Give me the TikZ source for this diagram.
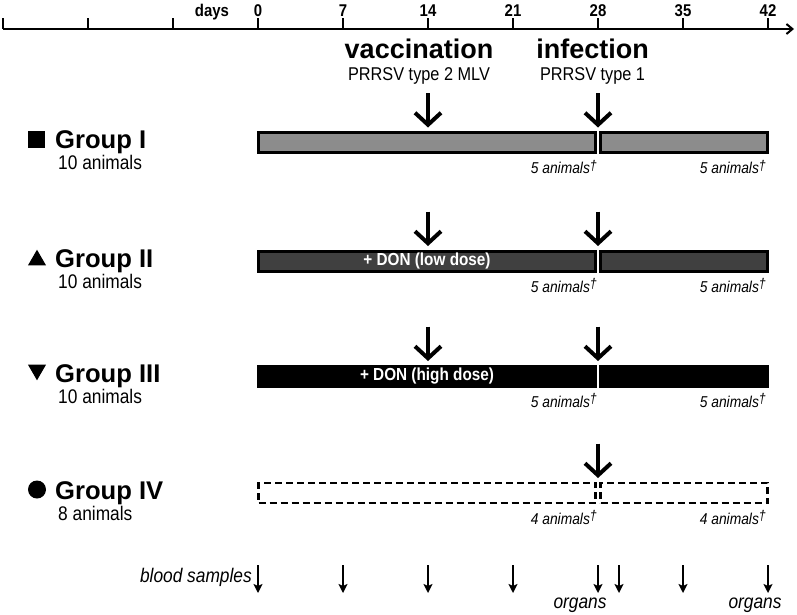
\documentclass[tikz,border=0pt]{standalone}
\usepackage{fontspec}
\setmainfont{Liberation Sans}
\newfontfamily\narrowfont{Liberation Sans}[FakeStretch=0.88]
\usetikzlibrary{arrows.meta, positioning, shapes.geometric}
\definecolor{barGray}{HTML}{8C8C8C}
\definecolor{barDark}{HTML}{404040}
\newcommand{\deadmark}{\raisebox{3.5pt}{\fontsize{14}{14}\selectfont †}}

\begin{document}
\begin{tikzpicture}[
    x=1pt, y=-1pt,
    bar/.style={rectangle, draw=black, line width=3pt, minimum height=20pt, inner sep=0pt, outer sep=0pt, anchor=west, text=white, font=\narrowfont\bfseries\fontsize{17.4}{20}\selectfont},
    dashbar/.style={bar, line width=2.5pt, dash pattern=on 7pt off 4pt},
    heading/.style={anchor=base, inner sep=0pt, font=\bfseries\fontsize{27}{30}\selectfont},
    subheading/.style={anchor=base, inner sep=0pt, font=\narrowfont\fontsize{18.5}{20}\selectfont},
    grouplabel/.style={anchor=base west, inner sep=0pt, font=\bfseries\fontsize{25.6}{28}\selectfont},
    animals/.style={anchor=base west, inner sep=0pt, font=\narrowfont\fontsize{19.7}{22}\selectfont},
    dead/.style={anchor=base east, inner sep=0pt, font=\narrowfont\itshape\fontsize{15.7}{18}\selectfont},
    daylabel/.style={anchor=base, inner sep=0pt, font=\narrowfont\bfseries\fontsize{17}{18}\selectfont},
    bottomlabel/.style={inner sep=0pt, font=\narrowfont\itshape\fontsize{19.7}{22}\selectfont},
    marker/.style={fill=black, inner sep=0pt, outer sep=0pt},
    bigarrow/.style={line width=4pt, shorten >=5pt, -{Straight Barb[length=12pt, width=26pt]}},
    sample/.style={line width=1.8pt, -{Stealth[length=9pt, width=9pt, inset=2pt]}}
]
    \useasboundingbox (0,0) rectangle (797,614);

    % time axis
    \coordinate (axisstart) at (3,29);
    \coordinate (axisend) at (794,29);
    \draw[line width=2pt, -{Straight Barb[length=6pt, width=10pt]}] (axisstart) -- (axisend);
    \foreach \k in {-3,...,6}
        \draw[line width=2pt] ({258+85*\k},18) -- ({258+85*\k},29);
    \foreach \d [count=\k from 0] in {0,7,...,42}
        \node[daylabel] (day\d) at ({258+85*\k},16.5) {\d};
    \node[daylabel] (days) at (212,16.5) {days};

    % treatments
    \node[heading] (vacc) at (419,58) {vaccination};
    \node[subheading] (vaccsub) at (419,80) {PRRSV type 2 MLV};
    \node[heading] (inf) at (592.5,58) {infection};
    \node[subheading] (infsub) at (592.5,80) {PRRSV type 1};

    % Group I
    \node[marker, rectangle, minimum size=17pt] (mkI) at (36.5,139) {};
    \node[grouplabel] (grpI) at (55,148.5) {Group I};
    \node[animals] (nI) at (58,169.5) {10 animals};
    \node[bar, fill=barGray, minimum width=337pt] (barIa) at (258.5,142.5) {};
    \node[bar, fill=barGray, minimum width=167pt, right=5pt of barIa] (barIb) {};
    \coordinate (vacI) at (428,93);
    \coordinate (infI) at (598,93);
    \draw[bigarrow] (vacI) -- (vacI |- barIa.north);
    \draw[bigarrow] (infI) -- (infI |- barIa.north);
    \node[dead] (deadIa) at (597,173.5) {5 animals\deadmark};
    \node[dead] (deadIb) at (766,173.5) {5 animals\deadmark};

    % Group II
    \node[marker, regular polygon, regular polygon sides=3, minimum size=20.8pt] (mkII) at (37,260.1) {};
    \node[grouplabel] (grpII) at (55,267) {Group II};
    \node[animals] (nII) at (58,288) {10 animals};
    \node[bar, fill=barDark, minimum width=337pt] (barIIa) at (258.5,261) {+ DON (low dose)};
    \node[bar, fill=barDark, minimum width=167pt, right=5pt of barIIa] (barIIb) {};
    \coordinate (vacII) at (428,211.5);
    \coordinate (infII) at (598,211.5);
    \draw[bigarrow] (vacII) -- (vacII |- barIIa.north);
    \draw[bigarrow] (infII) -- (infII |- barIIa.north);
    \node[dead] (deadIIa) at (597,292) {5 animals\deadmark};
    \node[dead] (deadIIb) at (766,292) {5 animals\deadmark};

    % Group III
    \node[marker, regular polygon, regular polygon sides=3, shape border rotate=180, minimum size=20.8pt] (mkIII) at (37,369.9) {};
    \node[grouplabel] (grpIII) at (55,382) {Group III};
    \node[animals] (nIII) at (58,403) {10 animals};
    \node[bar, fill=black, minimum width=337pt] (barIIIa) at (258.5,376) {+ DON (high dose)};
    \node[bar, fill=black, minimum width=167pt, right=5pt of barIIIa] (barIIIb) {};
    \coordinate (vacIII) at (428,326.5);
    \coordinate (infIII) at (598,326.5);
    \draw[bigarrow] (vacIII) -- (vacIII |- barIIIa.north);
    \draw[bigarrow] (infIII) -- (infIII |- barIIIa.north);
    \node[dead] (deadIIIa) at (597,407) {5 animals\deadmark};
    \node[dead] (deadIIIb) at (766,407) {5 animals\deadmark};

    % Group IV
    \node[marker, circle, minimum size=18pt] (mkIV) at (37,489.5) {};
    \node[grouplabel] (grpIV) at (55,499) {Group IV};
    \node[animals] (nIV) at (58,520) {8 animals};
    \node[dashbar, minimum width=337pt] (barIVa) at (258.5,493) {};
    \node[dashbar, minimum width=167pt, right=5pt of barIVa] (barIVb) {};
    \coordinate (infIV) at (598,443.5);
    \draw[bigarrow] (infIV) -- (infIV |- barIVa.north);
    \node[dead] (deadIVa) at (597,524) {4 animals\deadmark};
    \node[dead] (deadIVb) at (766,524) {4 animals\deadmark};

    % sampling
    \node[bottomlabel, anchor=base east] (blood) at (252,582) {blood samples};
    \foreach \x [count=\n] in {258,343,428,513,598,619,683,768} {
        \coordinate (smp\n) at (\x,565);
        \draw[sample] (smp\n) -- ++(0,28);
    }
    \node[bottomlabel, anchor=base] (org1) at (580,608) {organs};
    \node[bottomlabel, anchor=base] (org2) at (755,608) {organs};
\end{tikzpicture}
\end{document}
